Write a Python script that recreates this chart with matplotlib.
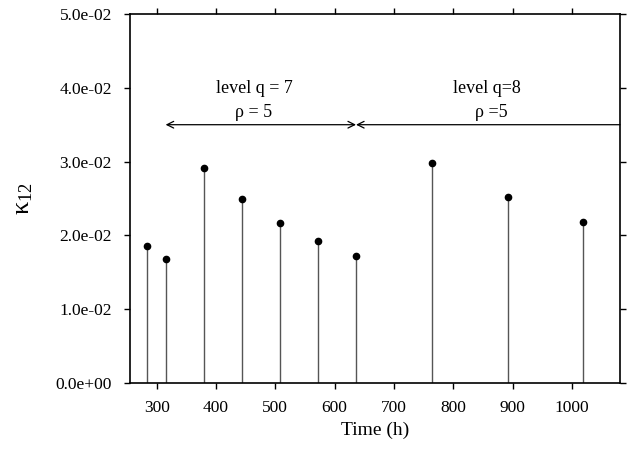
import matplotlib
matplotlib.use("Agg")
import matplotlib.pyplot as plt

plt.rcParams['font.family'] = ['Liberation Serif', 'DejaVu Serif']
plt.rcParams['mathtext.fontset'] = 'custom'
plt.rcParams['mathtext.rm'] = 'Liberation Serif'
plt.rcParams['mathtext.it'] = 'Liberation Serif:italic'

# stem positions (h) and kappa_12 values
time_h = [283, 315, 379, 443, 508, 572, 636, 764, 892, 1019]
kappa = [0.0185, 0.0168, 0.0292, 0.0249, 0.0217, 0.0192, 0.0172, 0.0298, 0.0252, 0.0218]

yticks = [0.0, 0.01, 0.02, 0.03, 0.04, 0.05]
ytick_labels = ['0.0e+00', '1.0e-02', '2.0e-02', '3.0e-02', '4.0e-02', '5.0e-02']
xticks = [300, 400, 500, 600, 700, 800, 900, 1000]

fig = plt.figure(figsize=(6.29, 4.49), dpi=100)
ax = fig.add_axes([0.2067, 0.147, 0.779, 0.8218])

ax.vlines(time_h, 0, kappa, color='#555555', lw=1.0)
ax.plot(time_h, kappa, 'o', color='black', ms=4.5)

ax.set_xlim(255, 1081)
ax.set_ylim(0, 0.05)
ax.set_xticks(xticks)
ax.set_yticks(yticks)
ax.set_yticklabels(ytick_labels)
ax.tick_params(direction='out', length=4, width=1, labelsize=12.5,
               top=True, right=True, labeltop=False, labelright=False)
ax.tick_params(axis='y', pad=9)
ax.tick_params(axis='x', pad=8)
for s in ax.spines.values():
    s.set_linewidth(1.2)

ax.set_xlabel('Time (h)', fontsize=14)
ax.set_ylabel(r'$\mathrm{κ}_{\mathrm{12}}$', fontsize=19, labelpad=15)

# level annotations
arrow_y = 0.035
ax.annotate('', xy=(315, arrow_y), xytext=(636, arrow_y),
            arrowprops=dict(arrowstyle='<->', color='black', lw=0.9,
                            shrinkA=0, shrinkB=0, mutation_scale=12))
ax.annotate('', xy=(636, arrow_y), xytext=(1081, arrow_y),
            arrowprops=dict(arrowstyle='->', color='black', lw=0.9,
                            shrinkA=0, shrinkB=0, mutation_scale=12))
ax.text(464, 0.0399, 'level q = 7', ha='center', va='center', fontsize=13)
ax.text(464, 0.0367, 'ρ = 5', ha='center', va='center', fontsize=13)
ax.text(856, 0.0399, 'level q=8', ha='center', va='center', fontsize=13)
ax.text(864, 0.0367, 'ρ =5', ha='center', va='center', fontsize=13)

fig.savefig('out.png', dpi=100)
